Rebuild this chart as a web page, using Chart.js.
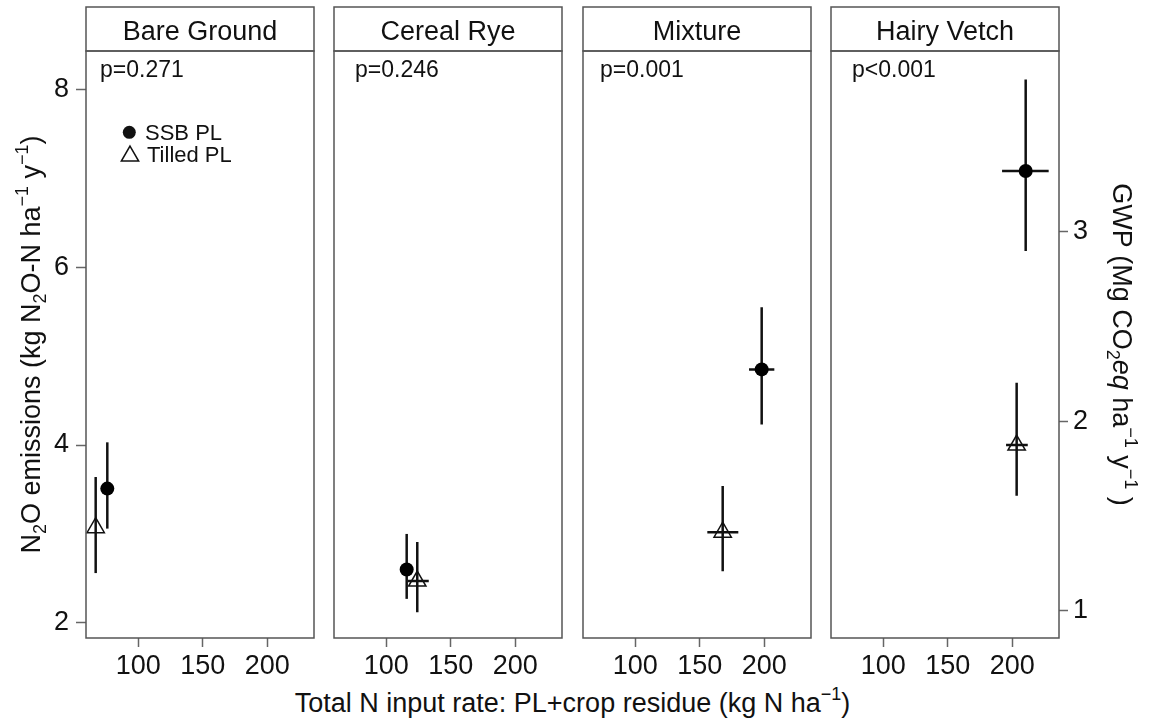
<!DOCTYPE html>
<html>
<head>
<meta charset="utf-8">
<title>N2O emissions vs total N input</title>
<script src="https://cdn.jsdelivr.net/npm/chart.js@4.4.1/dist/chart.umd.min.js"></script>
<style>
  body { margin: 0; background: #fff; }
  #fig { position: relative; width: 1149px; height: 724px; overflow: hidden; background: #fff; }
  #fig canvas { position: absolute; top: 0; }
  #xtitle { position: absolute; left: 86px; width: 973px; top: 690px; text-align: center;
            font: 27px/27px "Liberation Sans", Arial, sans-serif; color: #111; white-space: nowrap; }
  #xtitle sup { font-size: 18px; line-height: 0; vertical-align: 12px; }
</style>
</head>
<body>
<div id="fig">
  <div id="xtitle">Total N input rate: PL+crop residue (kg N ha<sup>&minus;1</sup>)</div>
</div>
<script>
const panels = ['Bare Ground', 'Cereal Rye', 'Mixture', 'Hairy Vetch'];
const pLabels = ['p=0.271', 'p=0.246', 'p=0.001', 'p<0.001'];

// SSB PL (filled circles): total N input and N2O emission, with error ranges
const ssbN     = [76.1, 115.9, 198.0, 210.4];
const ssbNLo   = [76.1, 115.9, 188.2, 192.1];
const ssbNHi   = [76.1, 115.9, 207.8, 228.2];
const ssbN2O   = [3.51, 2.60, 4.85, 7.08];
const ssbN2OLo = [3.06, 2.27, 4.23, 6.18];
const ssbN2OHi = [4.03, 3.00, 5.55, 8.11];

// Tilled PL (open triangles)
const tillN     = [67.1, 124.1, 167.8, 203.4];
const tillNLo   = [67.1, 116.7, 155.9, 195.2];
const tillNHi   = [67.1, 133.0, 179.9, 212.0];
const tillN2O   = [3.07, 2.47, 3.02, 4.00];
const tillN2OLo = [2.56, 2.12, 2.58, 3.43];
const tillN2OHi = [3.64, 2.91, 3.54, 4.70];

const xTicks = [100, 150, 200];
const yTicks = [2, 4, 6, 8];
const gwpTicks = [1, 2, 3];
const GWP_PER_N2O = 0.4685; // kg N2O-N -> Mg CO2eq

const X_MIN = 59.6, X_MAX = 236.2;
const Y_MIN = 1.83, Y_MAX = 8.43;

document.addEventListener('DOMContentLoaded', function () {

    const FONT = '"Liberation Sans", Arial, sans-serif';
    Chart.defaults.font.family = FONT;
    Chart.defaults.color = '#111';

    const panelLeft = [86, 334, 583, 831];
    const PANEL_W = 228;
    const pOffset = [14, 21, 17, 21];

    // text with sub/superscripts, centred on (x, y) baseline
    function drawRich(ctx, parts, x, y, angle, size) {
        const small = Math.round(size * 0.65);
        const fontOf = p => (p.i ? 'italic ' : '') + (p.s ? small : size) + 'px ' + FONT;
        ctx.save();
        let total = 0;
        const widths = parts.map(p => {
            ctx.font = fontOf(p);
            const w = ctx.measureText(p.t).width;
            total += w;
            return w;
        });
        ctx.translate(x, y);
        ctx.rotate(angle);
        ctx.textAlign = 'left';
        ctx.textBaseline = 'alphabetic';
        ctx.fillStyle = '#111';
        let cx = -total / 2;
        parts.forEach((p, k) => {
            ctx.font = fontOf(p);
            const dy = p.s === 'sub' ? size * 0.22 : p.s === 'sup' ? -size * 0.45 : 0;
            ctx.fillText(p.t, cx, dy);
            cx += widths[k];
        });
        ctx.restore();
    }

    const n2oTitle = [
        { t: 'N' }, { t: '2', s: 'sub' }, { t: 'O emissions (kg N' }, { t: '2', s: 'sub' },
        { t: 'O-N ha' }, { t: '\u22121', s: 'sup' }, { t: ' y' }, { t: '\u22121', s: 'sup' }, { t: ')' }
    ];
    const gwpTitle = [
        { t: 'GWP (Mg CO' }, { t: '2', s: 'sub' }, { t: 'eq', i: true }, { t: ' ha' },
        { t: '\u22121', s: 'sup' }, { t: ' y' }, { t: '\u22121', s: 'sup' }, { t: ' )' }
    ];

    const panelDecor = {
        id: 'panelDecor',
        beforeDatasetsDraw(chart) {
            const ctx = chart.ctx;
            const xs = chart.scales.x, ys = chart.scales.y;
            ctx.save();
            ctx.strokeStyle = '#111';
            ctx.lineWidth = 2.5;
            chart.data.datasets.forEach(ds => ds.data.forEach(p => {
                const px = xs.getPixelForValue(p.x), py = ys.getPixelForValue(p.y);
                ctx.beginPath();
                ctx.moveTo(px, ys.getPixelForValue(p.yMin));
                ctx.lineTo(px, ys.getPixelForValue(p.yMax));
                if (p.xMax > p.xMin) {
                    ctx.moveTo(xs.getPixelForValue(p.xMin), py);
                    ctx.lineTo(xs.getPixelForValue(p.xMax), py);
                }
                ctx.stroke();
            }));
            ctx.restore();
        },
        afterDraw(chart, args, opts) {
            const ctx = chart.ctx, a = chart.chartArea;
            const i = opts.index;
            ctx.save();
            ctx.strokeStyle = '#555';
            ctx.lineWidth = 1.5;
            ctx.strokeRect(a.left, a.top, a.right - a.left, a.bottom - a.top);
            ctx.strokeRect(a.left, a.top - 44, a.right - a.left, 44);

            ctx.fillStyle = '#111';
            ctx.textBaseline = 'alphabetic';
            ctx.font = '27px ' + FONT;
            ctx.textAlign = 'center';
            ctx.fillText(panels[i], (a.left + a.right) / 2, 40);

            ctx.font = '23px ' + FONT;
            ctx.textAlign = 'left';
            ctx.fillText(pLabels[i], a.left + pOffset[i], 77);

            if (i === 0) {
                const sets = chart.data.datasets;
                ctx.font = '22px ' + FONT;
                // filled circle
                ctx.beginPath();
                ctx.arc(a.left + 43.3, 132.3, 6.5, 0, Math.PI * 2);
                ctx.fill();
                ctx.fillText(sets[0].label, a.left + 59, 140);
                // open triangle
                const tx = a.left + 44, ty = 156, r = 10;
                ctx.beginPath();
                for (let k = 0; k < 3; k++) {
                    const ang = k * 2 * Math.PI / 3;
                    const vx = tx + Math.sin(ang) * r, vy = ty - Math.cos(ang) * r;
                    if (k === 0) ctx.moveTo(vx, vy); else ctx.lineTo(vx, vy);
                }
                ctx.closePath();
                ctx.strokeStyle = '#111';
                ctx.stroke();
                ctx.fillText(sets[1].label, a.left + 61, 161.5);

                drawRich(ctx, n2oTitle, 40, (a.top + a.bottom) / 2, -Math.PI / 2, 27);
            }
            if (i === panels.length - 1) {
                drawRich(ctx, gwpTitle, a.right + 54, (a.top + a.bottom) / 2, Math.PI / 2, 27);
            }
            ctx.restore();
        }
    };

    const tickGrid = len => ({ drawOnChartArea: false, tickLength: len, tickColor: '#666', tickWidth: 1.5 });

    panels.forEach((name, i) => {
        const first = i === 0, last = i === panels.length - 1;
        const canvasLeft = first ? 0 : panelLeft[i] - 2;
        const width = (first ? 86 : 2) + PANEL_W + (last ? 90 : 2);

        const canvas = document.createElement('canvas');
        canvas.width = width;
        canvas.height = 724;
        canvas.style.left = canvasLeft + 'px';
        canvas.style.width = width + 'px';
        canvas.style.height = '724px';
        document.getElementById('fig').appendChild(canvas);

        const scales = {
            x: {
                type: 'linear', min: X_MIN, max: X_MAX,
                afterBuildTicks: s => { s.ticks = xTicks.map(v => ({ value: v })); },
                afterFit: s => { s.height = 86; s.paddingLeft = 0; s.paddingRight = 0; },
                grid: tickGrid(9),
                border: { display: false },
                ticks: { font: { size: 27 }, color: '#111', padding: 3, maxRotation: 0, autoSkip: false }
            },
            y: {
                type: 'linear', min: Y_MIN, max: Y_MAX, display: first,
                afterBuildTicks: s => { s.ticks = yTicks.map(v => ({ value: v })); },
                afterFit: s => { s.width = first ? 86 : 0; s.paddingTop = 0; s.paddingBottom = 0; },
                grid: tickGrid(10),
                border: { display: false },
                ticks: { font: { size: 27 }, color: '#111', padding: 7 }
            }
        };
        if (last) {
            scales.y2 = {
                type: 'linear', position: 'right',
                min: Y_MIN * GWP_PER_N2O, max: Y_MAX * GWP_PER_N2O,
                afterBuildTicks: s => { s.ticks = gwpTicks.map(v => ({ value: v })); },
                afterFit: s => { s.width = 90; s.paddingTop = 0; s.paddingBottom = 0; },
                grid: tickGrid(9),
                border: { display: false },
                ticks: { font: { size: 27 }, color: '#111', padding: 5 }
            };
        }

        new Chart(canvas, {
            type: 'scatter',
            data: {
                datasets: [{
                    label: 'SSB PL',
                    data: [{ x: ssbN[i], y: ssbN2O[i], xMin: ssbNLo[i], xMax: ssbNHi[i], yMin: ssbN2OLo[i], yMax: ssbN2OHi[i] }],
                    pointStyle: 'circle',
                    pointRadius: 7,
                    backgroundColor: '#000',
                    borderColor: '#000',
                    borderWidth: 0,
                    clip: false
                },
                {
                    label: 'Tilled PL',
                    data: [{ x: tillN[i], y: tillN2O[i], xMin: tillNLo[i], xMax: tillNHi[i], yMin: tillN2OLo[i], yMax: tillN2OHi[i] }],
                    pointStyle: 'triangle',
                    pointRadius: 10,
                    backgroundColor: 'rgba(0,0,0,0)',
                    borderColor: '#111',
                    borderWidth: 1.5,
                    clip: false
                }]
            },
            options: {
                responsive: false,
                animation: false,
                events: [],
                layout: {
                    autoPadding: false,
                    padding: { left: first ? 0 : 2, right: last ? 0 : 2, top: 51, bottom: 0 }
                },
                scales: scales,
                plugins: {
                    legend: { display: false },
                    tooltip: { enabled: false },
                    panelDecor: { index: i }
                }
            },
            plugins: [panelDecor]
        });
    });

}, false);
</script>
</body>
</html>
